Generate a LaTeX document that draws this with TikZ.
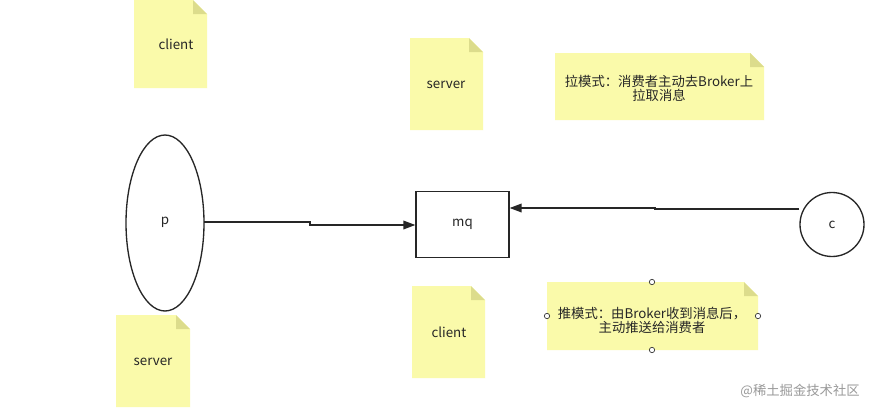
\documentclass[tikz,border=0pt]{standalone}
\usepackage{fontspec}
\setmainfont{Noto Sans CJK SC}
\usetikzlibrary{arrows.meta}
\definecolor{notefill}{HTML}{FAFAAA}
\definecolor{notefold}{HTML}{DCDC8C}
\tikzset{
  lbl/.style={font=\fontsize{10pt}{11.5pt}\selectfont, text=black!85, inner sep=0pt, align=center},
  conn/.style={line width=1.1pt, black!85, -{Triangle[length=9pt,width=6.5pt]}},
  handle/.style={draw=black!80, fill=white, line width=0.5pt, circle, minimum size=4pt, inner sep=0pt},
}
% note: #1 left, #2 top, #3 right, #4 bottom, #5 fold size
\newcommand{\stickynote}[5]{%
  \fill[notefill] (#1,#2) -- (#3-#5,#2) -- (#3,#2+#5) -- (#3,#4) -- (#1,#4) -- cycle;
  \fill[notefold] (#3-#5,#2) -- (#3,#2+#5) -- (#3-#5,#2+#5) -- cycle;
}
\begin{document}
\begin{tikzpicture}[x=0.75pt,y=-0.75pt]
\useasboundingbox[fill=white] (0,0) rectangle (869,411);
% notes
\stickynote{134}{0}{207}{88}{14}
\stickynote{410}{38}{483}{130}{14}
\stickynote{555}{53}{764}{120}{14}
\stickynote{547}{282}{758}{350}{14}
\stickynote{412}{286}{485}{378}{14}
\stickynote{116}{315}{190}{407}{14}
\node[lbl] (n1) at (176,44) {client};
\node[lbl] (n2) at (446,85) {server};
\node[lbl] (n3) at (659,88) {拉模式：消费者主动去Broker上\\[-1pt]拉取消息};
\node[lbl] (n4) at (652,320) {推模式：由Broker收到消息后，\\[-1pt]主动推送给消费者};
\node[lbl] (n5) at (449,332) {client};
\node[lbl] (n6) at (153,362) {server};
% handles
\node[handle] (h1) at (652,282) {};
\node[handle] (h2) at (547,316) {};
\node[handle] (h3) at (758,316) {};
\node[handle] (h4) at (652,350) {};
% shapes
\draw[line width=1pt, black!85] (165,223) ellipse [x radius=39, y radius=88];
\node[lbl] (p) at (165,222) {p};
\coordinate (pr) at (204,222);
\node[draw=black!85, line width=1pt, minimum width=69.75pt, minimum height=49.5pt, inner sep=0pt, lbl] (mq) at (462.5,224.5) {mq};
\node[draw=black!85, line width=1pt, circle, minimum size=48pt, inner sep=0pt, lbl] (c) at (832,224.5) {c};
% connectors
\draw[conn] (pr) -- (310,222) -- (310,225) -- (mq.west |- 0,225);
\draw[conn] (c.west |- 0,209) -- (655,209) -- (655,208) -- (mq.east |- 0,208);
% watermark
\node[font=\fontsize{10pt}{12pt}\selectfont, text=black!40, anchor=east, inner sep=0pt] (wm) at (860,391) {@稀土掘金技术社区};
\end{tikzpicture}
\end{document}
